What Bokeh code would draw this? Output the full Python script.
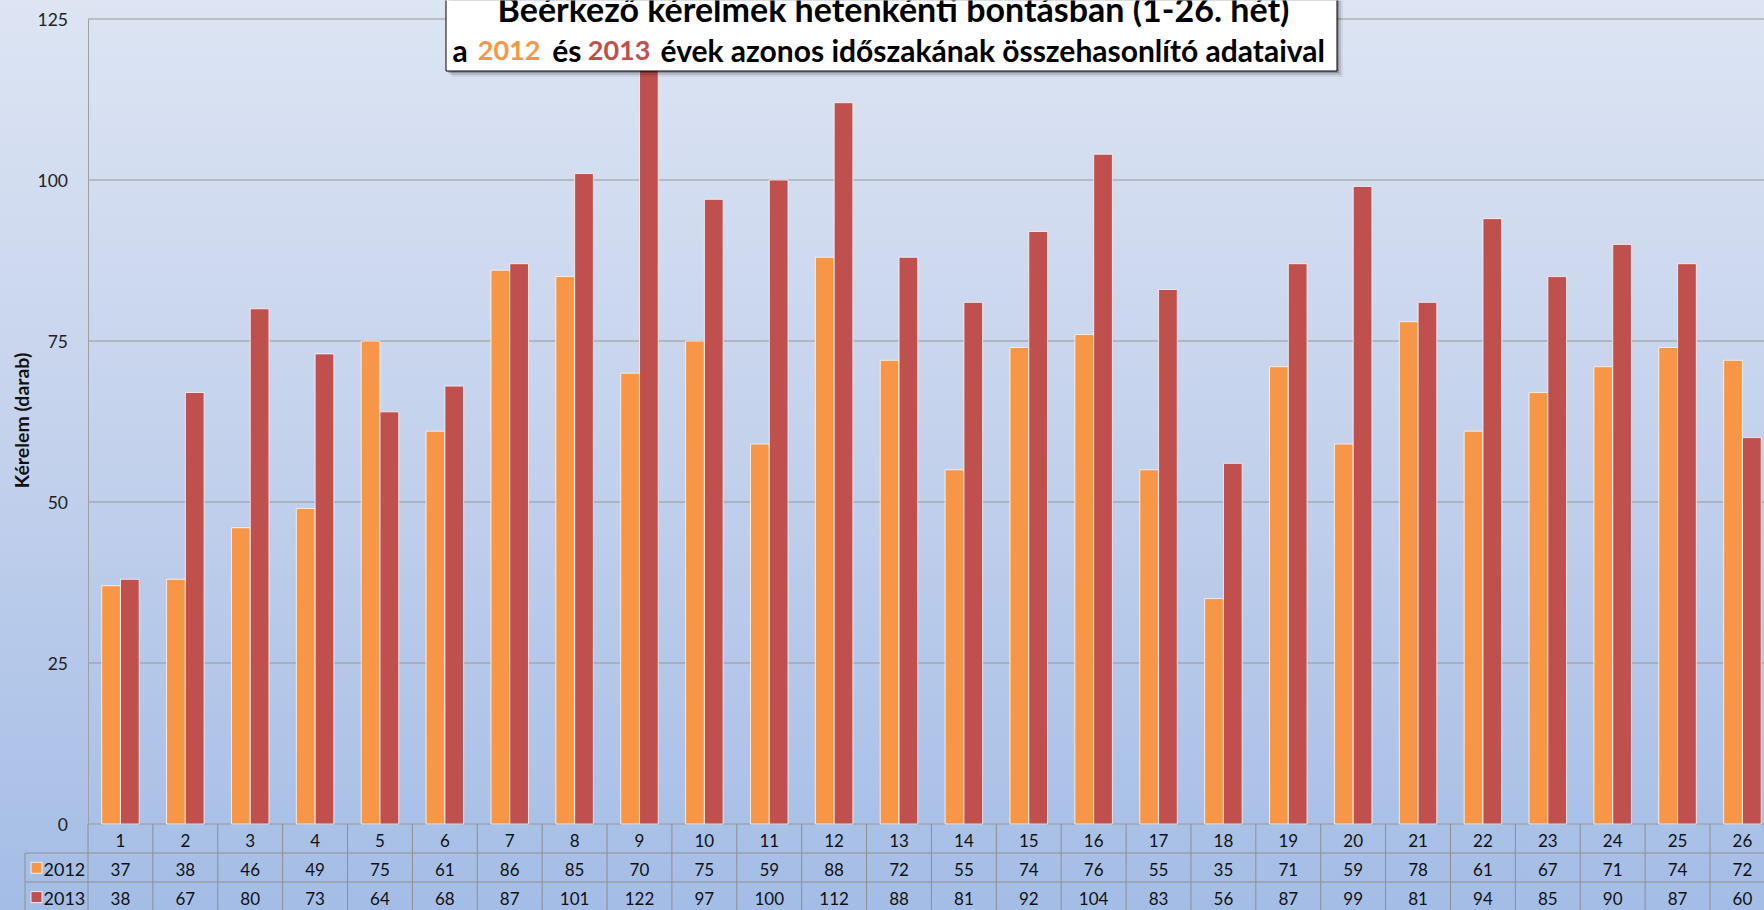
import math
from bokeh.plotting import figure
from bokeh.models import Range1d, LinearAxis, FixedTicker, ColumnDataSource
from bokeh.transform import dodge
from bokeh.embed import file_html
from bokeh.resources import INLINE
from bokeh.core.properties import value

# ---------------- data ----------------
weeks = list(range(1, 27))
week_labels = [str(w) for w in weeks]
series_names = ["2012", "2013"]
values_2012 = [37, 38, 46, 49, 75, 61, 86, 85, 70, 75, 59, 88, 72, 55, 74, 76, 55, 35, 71, 59, 78, 61, 67, 71, 74, 72]
values_2013 = [38, 67, 80, 73, 64, 68, 87, 101, 122, 97, 100, 112, 88, 81, 92, 104, 83, 56, 87, 99, 81, 94, 85, 90, 87, 60]
y_ticks = [0, 25, 50, 75, 100, 125]
title_line1 = "Beérkező kérelmek hetenkénti bontásban (1-26. hét)"
title_line2_parts = ["a", "2012", "és", "2013", "évek azonos időszakának összehasonlító adataival"]
y_label = "Kérelem (darab)"

COLOR_2012 = "#F79646"
COLOR_2013 = "#C0504D"
series_colors = [COLOR_2012, COLOR_2013]

# ---------------- layout (page pixels) ----------------
W, H = 1764, 910          # figure size
AX_X = 87.5               # page x of the plot area's left edge (x = 0.5)
CW = 64.88                # width of one week column in px
Y0_PX = 823.5             # page y of value 0
Y125_PX = 18.5            # page y of value 125
PPU = (Y0_PX - Y125_PX) / 125.0
BASE_K = 0.28             # empirical correction of the text baseline (in em)


def dx(px):
    return 0.5 + (px - AX_X) / CW


def dy(py):
    return (Y0_PX - py) / PPU


def base_y(py, size):
    """data y for a text whose alphabetic baseline should sit at page y `py`"""
    return dy(py - BASE_K * size)


FONT = "Lato"

p = figure(width=W, height=H,
           x_range=Range1d(dx(0), dx(W)),
           y_range=Range1d(dy(H), dy(0)),
           x_axis_type=None, y_axis_type=None,
           min_border=0, min_border_left=0, min_border_right=0,
           min_border_top=0, min_border_bottom=0,
           toolbar_location=None, output_backend="svg", title=None)
p.outline_line_color = None
p.background_fill_alpha = 0
p.border_fill_alpha = 0
p.styles = {"background": "linear-gradient(to bottom, #DDE5F3 0%, #C3D1EC 50%, #A4BDE6 100%)"}

x_right = dx(W)

# ---------------- gridlines ----------------
p.segment(x0=[0.5] * len(y_ticks), x1=[x_right] * len(y_ticks), y0=y_ticks, y1=y_ticks,
          line_color="#979797", line_width=1)

# ---------------- bars ----------------
src = ColumnDataSource(data=dict(week=weeks, v2012=values_2012, v2013=values_2013))
BAR_W = 0.288
OFF = 0.145
p.vbar(x=dodge("week", -OFF, range=p.x_range), top="v2012", bottom=0, width=BAR_W, source=src,
       fill_color=COLOR_2012, line_color="white", line_alpha=0.75, line_width=1)
p.vbar(x=dodge("week", OFF, range=p.x_range), top="v2013", bottom=0, width=BAR_W, source=src,
       fill_color=COLOR_2013, line_color="white", line_alpha=0.75, line_width=1)

# ---------------- data table below the chart ----------------
TBL_LEFT = 24.5
ROW_LINES = [852.5, 881.5]
ROW_BASE = [844.3, 873.7, 903.0]
bottom_y = dy(H)
TABLE_LINE = "#8E8E8E"
TS = 17

bounds = [w + 0.5 for w in [0] + weeks]
p.segment(x0=bounds, x1=bounds, y0=[0] * len(bounds), y1=[bottom_y] * len(bounds),
          line_color=TABLE_LINE, line_width=1)
p.segment(x0=[dx(TBL_LEFT)] * 2, x1=[x_right] * 2, y0=[dy(r) for r in ROW_LINES],
          y1=[dy(r) for r in ROW_LINES], line_color=TABLE_LINE, line_width=1)
p.segment(x0=[dx(TBL_LEFT)], x1=[dx(TBL_LEFT)], y0=[dy(ROW_LINES[0])], y1=[bottom_y],
          line_color=TABLE_LINE, line_width=1)

for row, labels in enumerate([week_labels,
                              [str(v) for v in values_2012],
                              [str(v) for v in values_2013]]):
    p.text(x=weeks, y=[base_y(ROW_BASE[row], TS)] * len(weeks), text=labels,
           text_font=value(FONT), text_font_size=f"{TS}px", text_color="#111111",
           text_align="center", text_baseline="alphabetic")

# row headers with legend keys
HS = 18
p.scatter(x=[dx(36)] * 2, y=[dy(867.3), dy(896.6)], marker="square", size=11,
          fill_color=series_colors, line_color="white", line_alpha=0.8)
p.text(x=[dx(43.0)] * 2, y=[base_y(ROW_BASE[1], HS), base_y(ROW_BASE[2], HS)], text=series_names,
       text_font=value(FONT), text_font_size=f"{HS}px", text_color="#111111",
       text_align="left", text_baseline="alphabetic")

# ---------------- y axis ----------------
yaxis = LinearAxis(ticker=FixedTicker(ticks=y_ticks), fixed_location=0.5, bounds=(0, 125))
yaxis.axis_line_color = "#A0A0A0"
yaxis.major_tick_out = 0
yaxis.major_tick_in = 0
yaxis.minor_tick_out = 0
yaxis.minor_tick_in = 0
yaxis.major_label_standoff = 20
yaxis.major_label_text_font = FONT
yaxis.major_label_text_font_size = "17.5px"
yaxis.major_label_text_color = "#222222"
p.add_layout(yaxis, "left")

YL = 19.5
p.text(x=[dx(26.7 - BASE_K * YL)], y=[dy(420)], text=[y_label], angle=math.pi / 2,
       text_font=value(FONT), text_font_style="bold", text_font_size=f"{YL}px",
       text_color="#111111", text_align="center", text_baseline="alphabetic")

# ---------------- title box ----------------
BOX_L, BOX_R, BOX_T, BOX_B = 445.5, 1336.5, -10, 70.5
for off, a in [(2, 0.22), (4, 0.12), (6, 0.06)]:
    p.quad(left=[dx(BOX_L + off)], right=[dx(BOX_R + off)], top=[dy(BOX_T)], bottom=[dy(BOX_B + off)],
           fill_color="black", fill_alpha=a, line_color=None)
p.quad(left=[dx(BOX_L)], right=[dx(BOX_R)], top=[dy(BOX_T)], bottom=[dy(BOX_B)],
       fill_color="white", line_color="black", line_width=1)

T1 = 34
p.text(x=[dx(893)], y=[base_y(18.0, T1)], text=[title_line1],
       text_font=value(FONT), text_font_style="bold", text_font_size=f"{T1}px",
       text_color="black", text_align="center", text_baseline="alphabetic")

part_x = [452, 477.3, 551.7, 587.3, 660]
part_sizes = [30, 27, 30, 27, 30]
part_colors = ["black", COLOR_2012, "black", COLOR_2013, "black"]
for px_, sz, txt, col in zip(part_x, part_sizes, title_line2_parts, part_colors):
    p.text(x=[dx(px_)], y=[base_y(57.5, sz)], text=[txt],
           text_font=value(FONT), text_font_style="bold", text_font_size=f"{sz}px",
           text_color=col, text_align="left", text_baseline="alphabetic")

open("out.html", "w").write(file_html(p, INLINE))
